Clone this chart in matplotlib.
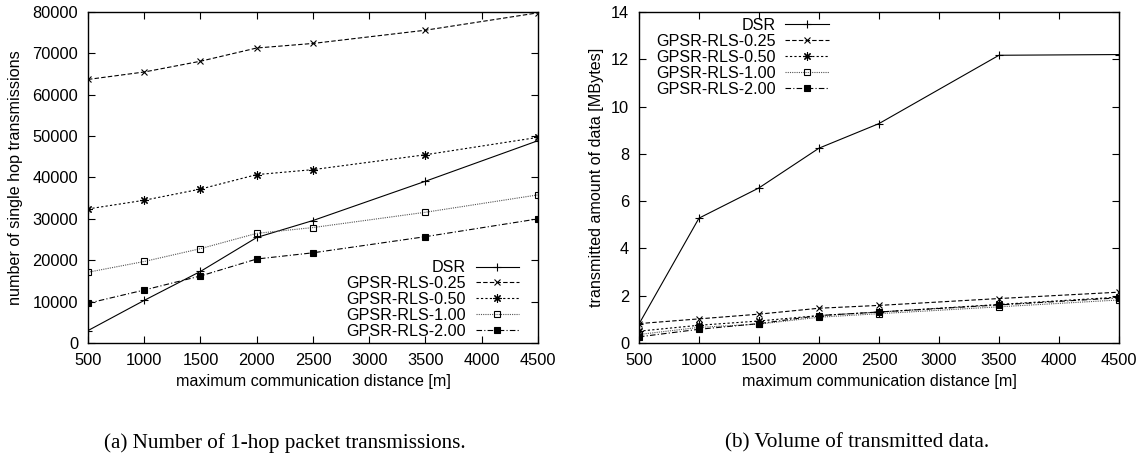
import matplotlib
matplotlib.use('Agg')
import matplotlib.pyplot as plt

plt.rcParams['font.family'] = ['Liberation Sans', 'DejaVu Sans']

# odleglosci (os x)
distance = [500, 1000, 1500, 2000, 2500, 3500, 4500]

# (a) liczba transmisji 1-hop
hops_dsr = [3000, 10300, 17300, 25500, 29600, 39100, 48900]
hops_025 = [63700, 65500, 68100, 71300, 72400, 75600, 79800]
hops_050 = [32400, 34500, 37200, 40700, 41900, 45500, 49700]
hops_100 = [17100, 19700, 22800, 26500, 27900, 31600, 35800]
hops_200 = [9600, 12800, 16200, 20300, 21800, 25700, 30000]

# (b) ilosc danych [MB]
data_dsr = [0.8, 5.28, 6.56, 8.24, 9.28, 12.17, 12.2]
data_025 = [0.82, 1.02, 1.22, 1.47, 1.59, 1.88, 2.15]
data_050 = [0.5, 0.75, 0.93, 1.16, 1.31, 1.63, 1.94]
data_100 = [0.36, 0.66, 0.8, 1.09, 1.24, 1.53, 1.82]
data_200 = [0.26, 0.58, 0.82, 1.16, 1.31, 1.61, 1.91]

labels = ['DSR', 'GPSR-RLS-0.25', 'GPSR-RLS-0.50', 'GPSR-RLS-1.00', 'GPSR-RLS-2.00']

styles = [
    dict(color='black', ls='-', marker='+', ms=6, mew=0.8),
    dict(color='black', ls=(0, (4, 2)), marker='x', ms=5, mew=0.8),
    dict(color='black', ls=(0, (2, 2)), marker=(8, 2, 0), ms=6, mew=0.8),
    dict(color='#555555', ls=(0, (1, 1)), marker='s', ms=5, mew=0.8, mfc='none', mec='black'),
    dict(color='black', ls=(0, (5, 2, 1, 2)), marker='s', ms=4.5, mew=0.8),
]

FS = 11.6

fig = plt.figure(figsize=(11.41, 4.58), dpi=100)
ax1 = fig.add_axes([0.0771, 0.2511, 0.3944, 0.7227])
ax2 = fig.add_axes([0.5600, 0.2511, 0.4207, 0.7227])


def draw(ax, series):
    for ys, lab, st in zip(series, labels, styles):
        ax.plot(distance, ys, label=lab, lw=0.8, **st)
    ax.set_xlim(500, 4500)
    ax.set_xticks(range(500, 4501, 500))
    ax.tick_params(direction='in', top=True, right=True, length=5, width=0.8,
                   labelsize=11.8, pad=7)
    for s in ax.spines.values():
        s.set_linewidth(1.0)
    ax.set_xlabel('maximum communication distance [m]', fontsize=FS)
    ax.xaxis.set_label_coords(0.5, -0.095)


def add_legend(ax, loc, anchor):
    ax.legend(loc=loc, bbox_to_anchor=anchor, frameon=False, markerfirst=False,
              fontsize=FS, handlelength=2.7, handletextpad=0.6, labelspacing=0.06,
              borderpad=0, borderaxespad=0, numpoints=1)


draw(ax1, [hops_dsr, hops_025, hops_050, hops_100, hops_200])
ax1.set_ylim(0, 80000)
ax1.set_yticks(range(0, 80001, 10000))
ax1.set_ylabel('number of single hop transmissions', fontsize=FS)
ax1.yaxis.set_label_coords(-0.145, 0.5)
add_legend(ax1, 'lower right', (0.958, 0.012))

draw(ax2, [data_dsr, data_025, data_050, data_100, data_200])
ax2.set_ylim(0, 14)
ax2.set_yticks(range(0, 15, 2))
ax2.set_ylabel('transmitted amount of data [MBytes]', fontsize=FS)
ax2.yaxis.set_label_coords(-0.073, 0.5)
add_legend(ax2, 'upper left', (0.035, 0.982))

fig.text(285 / 1141, 1 - 443 / 458, '(a) Number of 1-hop packet transmissions.',
         ha='center', va='center', fontsize=15.2, family='Liberation Serif')
fig.text(857 / 1141, 1 - 443 / 458, '(b) Volume of transmitted data.',
         ha='center', va='center', fontsize=15.2, family='Liberation Serif')

fig.savefig('out.png', dpi=100)
